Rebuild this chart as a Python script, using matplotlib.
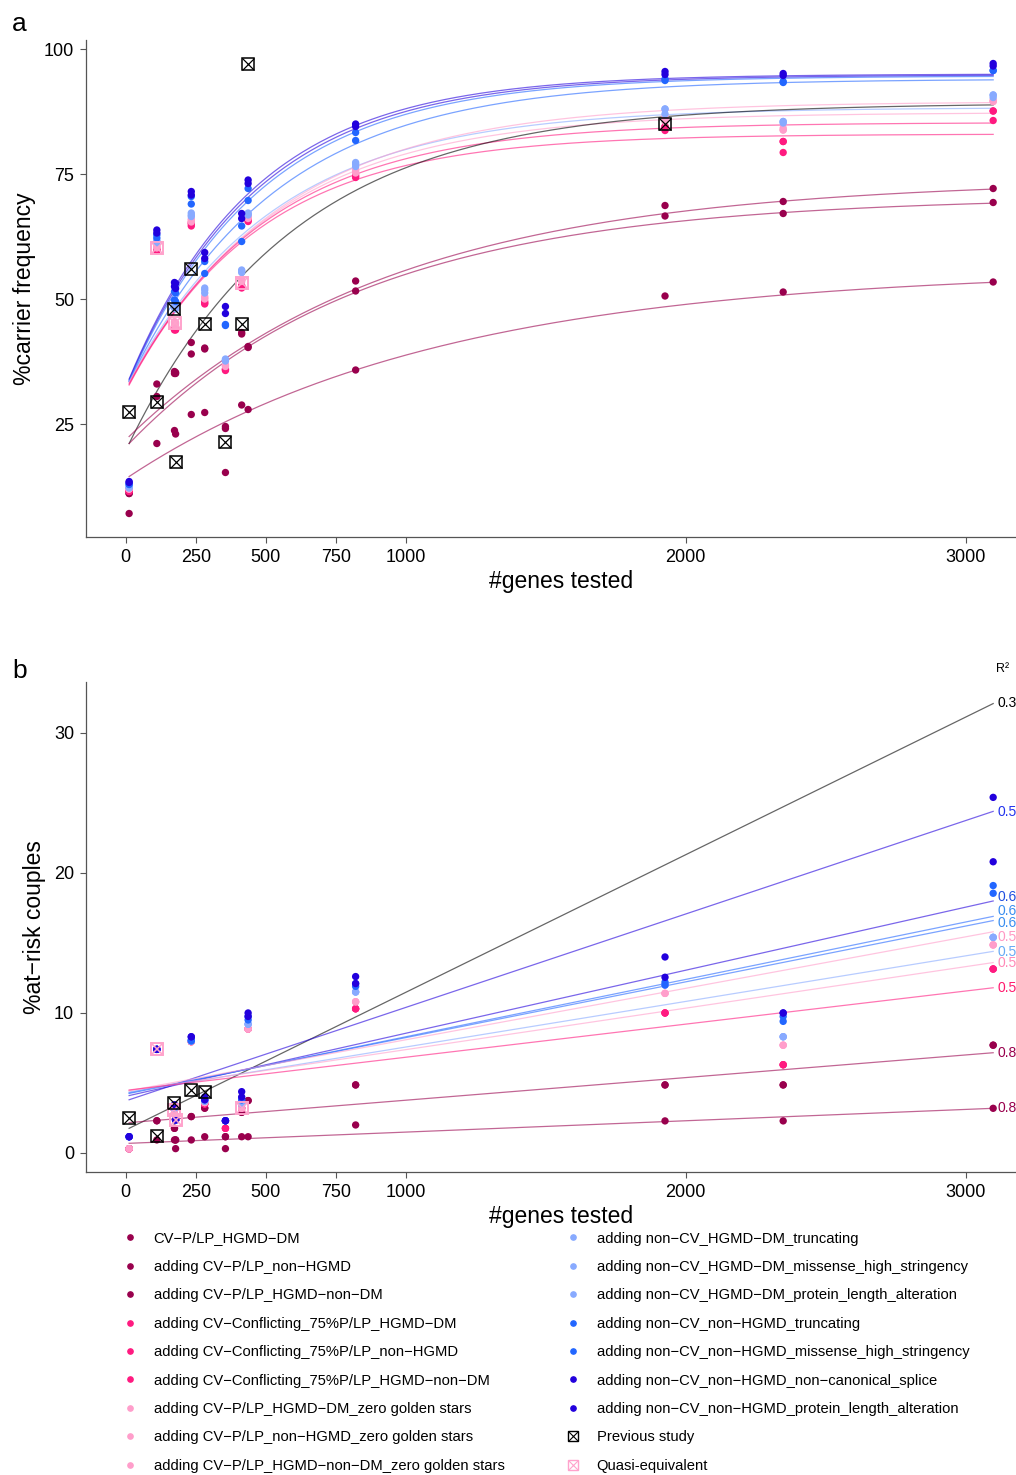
import numpy as np
import matplotlib
matplotlib.use('Agg')
import matplotlib.pyplot as plt
from matplotlib.lines import Line2D

plt.rcParams['font.family'] = ['Liberation Sans', 'DejaVu Sans']

# number of genes tested in each panel
genes = [12, 111, 174, 178, 234, 282, 356, 414, 437, 821, 1926, 2348, 3098]

series_names = [
    "CV\u2212P/LP_HGMD\u2212DM",
    "adding CV\u2212P/LP_non\u2212HGMD",
    "adding CV\u2212P/LP_HGMD\u2212non\u2212DM",
    "adding CV\u2212Conflicting_75%P/LP_HGMD\u2212DM",
    "adding CV\u2212Conflicting_75%P/LP_non\u2212HGMD",
    "adding CV\u2212Conflicting_75%P/LP_HGMD\u2212non\u2212DM",
    "adding CV\u2212P/LP_HGMD\u2212DM_zero golden stars",
    "adding CV\u2212P/LP_non\u2212HGMD_zero golden stars",
    "adding CV\u2212P/LP_HGMD\u2212non\u2212DM_zero golden stars",
    "adding non\u2212CV_HGMD\u2212DM_truncating",
    "adding non\u2212CV_HGMD\u2212DM_missense_high_stringency",
    "adding non\u2212CV_HGMD\u2212DM_protein_length_alteration",
    "adding non\u2212CV_non\u2212HGMD_truncating",
    "adding non\u2212CV_non\u2212HGMD_missense_high_stringency",
    "adding non\u2212CV_non\u2212HGMD_non\u2212canonical_splice",
    "adding non\u2212CV_non\u2212HGMD_protein_length_alteration",
]

MAROON, HOT, PINK, LBLUE, BLUE, DBLUE = "#99004D", "#FF1A80", "#FF9ECB", "#88AAFF", "#2266FF", "#2200DD"
series_colors = [MAROON] * 3 + [HOT] * 3 + [PINK] * 3 + [LBLUE] * 3 + [BLUE] * 2 + [DBLUE] * 2

# %carrier frequency (panel a)
cf_M1 = [7.1, 21.1, 23.7, 23.0, 26.9, 27.3, 15.3, 28.8, 27.9, 35.8, 50.6, 51.4, 53.4]
cf_M2 = [11.1, 30.5, 35.1, 35.1, 39.0, 40.0, 24.1, 43.0, 40.3, 51.6, 66.6, 67.1, 69.3]
cf_M3 = [11.1, 33.0, 35.5, 35.3, 41.3, 40.2, 24.5, 43.3, 40.5, 53.6, 68.7, 69.5, 72.1]
cf_H1 = [11.5, 59.6, 43.8, 43.8, 64.6, 49.0, 35.7, 52.2, 65.5, 74.3, 83.7, 79.3, 85.7]
cf_H2 = [11.5, 59.8, 44.1, 44.0, 65.0, 49.2, 35.9, 52.5, 65.7, 74.5, 84.5, 81.5, 87.6]
cf_H3 = [11.6, 60.0, 44.5, 44.2, 65.3, 49.5, 36.0, 52.7, 65.9, 74.8, 84.5, 81.5, 87.6]
cf_L1 = [12.0, 60.2, 44.8, 44.6, 65.4, 50.0, 36.5, 53.5, 66.1, 75.2, 85.5, 83.8, 89.5]
cf_L2 = [12.0, 60.4, 45.2, 45.0, 65.7, 50.2, 36.7, 53.8, 66.3, 75.5, 86.0, 83.8, 89.5]
cf_L3 = [12.0, 60.6, 45.5, 45.3, 66.0, 50.5, 36.9, 54.0, 66.5, 75.8, 86.5, 84.2, 89.8]
cf_B1 = [12.2, 61.2, 48.2, 48.0, 66.5, 51.2, 37.6, 55.3, 66.8, 76.5, 87.0, 85.2, 90.3]
cf_B2 = [12.3, 61.5, 48.5, 48.3, 66.8, 51.8, 37.8, 55.6, 67.0, 77.0, 88.0, 85.5, 90.8]
cf_B3 = [12.5, 61.7, 48.8, 48.6, 67.2, 52.2, 38.0, 55.8, 67.2, 77.3, 88.0, 85.5, 90.8]
cf_C1 = [12.9, 62.2, 49.8, 49.5, 69.0, 55.1, 44.7, 61.5, 69.7, 81.7, 93.7, 93.3, 95.7]
cf_C2 = [13.0, 62.8, 51.5, 51.2, 70.5, 57.5, 44.9, 64.6, 72.1, 83.3, 94.0, 93.5, 95.7]
cf_D1 = [13.3, 63.2, 52.5, 52.1, 70.8, 58.1, 47.1, 66.1, 73.1, 84.5, 94.9, 94.7, 96.6]
cf_D2 = [13.5, 63.8, 53.3, 53.1, 71.5, 59.3, 48.5, 67.1, 73.8, 85.0, 95.5, 95.1, 97.1]
carrier = [cf_M1, cf_M2, cf_M3, cf_H1, cf_H2, cf_H3, cf_L1, cf_L2, cf_L3,
           cf_B1, cf_B2, cf_B3, cf_C1, cf_C2, cf_D1, cf_D2]

# %at-risk couples (panel b)
ar_M1 = [0.3, 0.93, 0.93, 0.31, 0.93, 1.16, 0.31, 1.16, 1.16, 2.0, 2.29, 2.29, 3.19]
ar_M2 = [0.3, 2.3, 1.76, 0.93, 2.6, 3.2, 1.16, 2.9, 3.74, 4.86, 4.86, 4.86, 7.7]
ar_M3 = [0.3, 2.3, 1.76, 0.93, 2.6, 3.2, 1.16, 2.9, 3.74, 4.86, 4.86, 4.86, 7.7]
ar_H = [0.3, 7.4, 3.07, 2.36, 7.95, 3.5, 1.76, 3.2, 8.86, 10.3, 10.0, 6.3, 13.14]
ar_L = [0.3, 7.4, 3.07, 2.36, 7.95, 3.6, 2.3, 3.2, 8.86, 10.8, 11.4, 7.7, 14.86]
ar_B = [1.16, 7.4, 3.2, 2.36, 8.0, 3.7, 2.3, 3.5, 9.2, 11.5, 12.0, 8.3, 15.4]
ar_C1 = [1.16, 7.4, 3.3, 2.36, 8.0, 3.8, 2.3, 3.8, 9.5, 11.9, 12.0, 9.4, 18.55]
ar_C2 = [1.16, 7.4, 3.4, 2.36, 8.1, 3.8, 2.3, 3.8, 9.75, 12.1, 12.2, 9.75, 19.1]
ar_D1 = [1.16, 7.4, 3.43, 2.36, 8.3, 3.8, 2.3, 4.0, 9.75, 12.1, 12.55, 10.0, 20.8]
ar_D2 = [1.16, 7.4, 3.43, 2.36, 8.3, 4.0, 2.3, 4.38, 10.0, 12.6, 14.0, 10.0, 25.4]
at_risk = [ar_M1, ar_M2, ar_M3, ar_H, ar_H, ar_H, ar_L, ar_L, ar_L,
           ar_B, ar_B, ar_B, ar_C1, ar_C2, ar_D1, ar_D2]

# previous studies and quasi-equivalent estimates
prev_genes_a = [12, 111, 174, 178, 234, 282, 356, 414, 437, 1926]
prev_cf = [27.4, 29.5, 48.1, 17.4, 56.1, 45.1, 21.5, 45.1, 97.1, 85.0]
quasi_genes_a = [111, 176, 414]
quasi_cf = [60.2, 45.3, 53.3]
prev_genes_b = [12, 111, 174, 234, 282]
prev_ar = [2.5, 1.2, 3.6, 4.5, 4.38]
quasi_genes_b = [111, 174, 178, 414]
quasi_ar = [7.4, 3.07, 2.36, 3.2]

# saturation curves of panel a: start value, plateau, rate
curve_colors = [DBLUE, DBLUE, BLUE, BLUE, LBLUE, PINK, PINK, HOT, HOT, "black", MAROON, MAROON, MAROON]
curve_start = [34.0, 33.8, 33.6, 33.5, 33.5, 33.3, 33.2, 33.0, 32.8, 21.1, 22.5, 21.1, 14.5]
curve_plateau = [95.0, 94.8, 94.6, 94.0, 88.3, 89.5, 87.3, 85.3, 83.0, 89.2, 74.0, 70.5, 56.0]
curve_rate = [0.0022, 0.00215, 0.0021, 0.0019, 0.0019, 0.0018, 0.0019, 0.002, 0.0021,
              0.00168, 0.00105, 0.00117, 0.00089]

# linear fits of panel b: value at first and last panel, R2 label
fit_colors = ["black", DBLUE, DBLUE, BLUE, BLUE, PINK, LBLUE, PINK, HOT, MAROON, MAROON]
fit_first = [1.76, 3.8, 4.1, 4.25, 4.3, 4.45, 4.35, 4.45, 4.5, 2.17, 0.69]
fit_last = [32.1, 24.4, 18.0, 16.9, 16.6, 15.8, 14.4, 13.6, 11.8, 7.16, 3.19]
fit_r2 = ["0.3", "0.5", "0.6", "0.6", "0.6", "0.5", "0.5", "0.5", "0.5", "0.8", "0.8"]
r2_label_y = [32.14, 24.36, 18.31, 17.29, 16.43, 15.43, 14.36, 13.57, 11.75, 7.12, 3.18]
r2_label_colors = ["black", "#2233EE", "#1F4FE0", "#3A8EF0", "#3A8EF0", "#FF99C4",
                   "#66AAF5", "#FF8AB8", "#FF1A6E", MAROON, MAROON]

xticks = [0, 250, 500, 750, 1000, 2000, 3000]


def boxtimes(ax, x, y, color, size, lw, z=6):
    ax.plot(x, y, ls='none', marker='s', ms=size, mfc='none', mec=color, mew=lw, zorder=z)
    ax.plot(x, y, ls='none', marker='x', ms=size, mec=color, mew=lw * 0.8, zorder=z)


def style_axes(ax):
    for side in ['top', 'right']:
        ax.spines[side].set_visible(False)
    for side in ['left', 'bottom']:
        ax.spines[side].set_color('#555555')
        ax.spines[side].set_linewidth(0.9)
    ax.tick_params(length=4.5, width=0.8, color='#555555', labelsize=13, pad=4)
    # panel runs past the right edge of the picture (cropped figure)
    ax.set_xlim(-142, 3251)
    ax.set_xticks(xticks)
    ax.set_xlabel('#genes tested', fontsize=16.5, labelpad=3)


fig = plt.figure(figsize=(10.16, 14.75), dpi=100)
ax_a = fig.add_axes([0.08465, 0.63593, 0.93504, 0.33695])
ax_b = fig.add_axes([0.08465, 0.20542, 0.93504, 0.33220])

# panel a
xs = np.linspace(genes[0], genes[-1], 300)
for c, b0, a0, k in zip(curve_colors, curve_start, curve_plateau, curve_rate):
    ys = a0 - (a0 - b0) * np.exp(-k * (xs - genes[0]))
    ax_a.plot(xs, ys, color=c, lw=0.9, alpha=0.6, zorder=2)
for vals, c in zip(carrier, series_colors):
    ax_a.scatter(genes, vals, s=28, color=c, edgecolors='none', zorder=3)
boxtimes(ax_a, quasi_genes_a, quasi_cf, "#FFA3CC", 8.5, 1.4)
boxtimes(ax_a, prev_genes_a, prev_cf, "black", 8, 1.1)
style_axes(ax_a)
ax_a.set_ylim(2.4, 101.8)
ax_a.set_yticks([25, 50, 75, 100])
ax_a.set_ylabel('%carrier frequency', fontsize=16.5, labelpad=6)

# panel b
x_ends = [genes[0], genes[-1]]
for c, y0, y1 in zip(fit_colors, fit_first, fit_last):
    ax_b.plot(x_ends, [y0, y1], color=c, lw=0.9, alpha=0.6, zorder=2)
for vals, c in zip(at_risk, series_colors):
    ax_b.scatter(genes, vals, s=28, color=c, edgecolors='none', zorder=3)
boxtimes(ax_b, quasi_genes_b, quasi_ar, "#FFA3CC", 8.5, 1.4)
boxtimes(ax_b, prev_genes_b, prev_ar, "black", 8, 1.1)
for lab, ly, lc in zip(fit_r2, r2_label_y, r2_label_colors):
    ax_b.text(3112, ly, lab, color=lc, fontsize=10, va='center', ha='left', clip_on=False)
ax_b.text(3133, 34.57, 'R\u00b2', fontsize=9, ha='center', va='center', clip_on=False)
style_axes(ax_b)
ax_b.set_ylim(-1.36, 33.64)
ax_b.set_yticks([0, 10, 20, 30])
ax_b.set_ylabel('%at\u2212risk couples', fontsize=16.5, labelpad=6)

fig.text(0.012, 0.984, 'a', fontsize=19, va='center')
fig.text(0.012, 0.545, 'b', fontsize=19, va='center')

# legend
handles = [Line2D([], [], ls='none', marker='o', ms=3.8, color=c) for c in series_colors]
prev_h = (Line2D([], [], ls='none', marker='s', ms=7, mfc='none', mec='black', mew=1.0),
          Line2D([], [], ls='none', marker='x', ms=7, mec='black', mew=0.8))
quasi_h = (Line2D([], [], ls='none', marker='s', ms=7, mfc='none', mec='#FFA3CC', mew=1.0),
           Line2D([], [], ls='none', marker='x', ms=7, mec='#FFA3CC', mew=0.8))
all_h = handles + [prev_h, quasi_h]
all_l = series_names + ['Previous study', 'Quasi-equivalent']
leg_kw = dict(loc='upper left', frameon=False, fontsize=10.6, handlelength=1.0,
              handletextpad=1.1, labelspacing=0.98, borderpad=0, borderaxespad=0)
fig.legend(all_h[:9], all_l[:9], bbox_to_anchor=(122.6 / 1016, 1 - 1231.5 / 1475), **leg_kw)
fig.legend(all_h[9:], all_l[9:], bbox_to_anchor=(565.6 / 1016, 1 - 1231.5 / 1475), **leg_kw)

fig.savefig('out.png', dpi=100)
